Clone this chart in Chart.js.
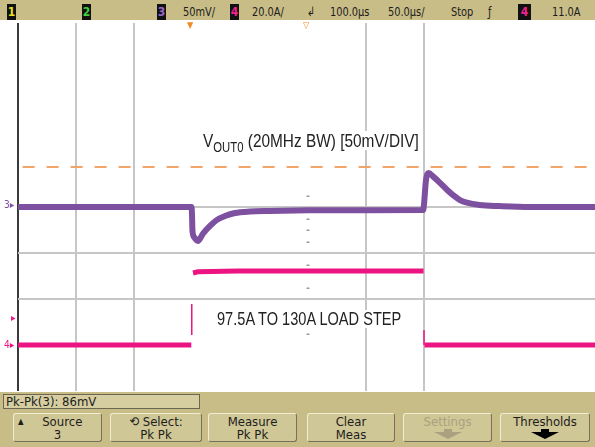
<!DOCTYPE html>
<html lang="en">
<head>
<meta charset="UTF-8" />
<title>Load step transient - VOUT0</title>
<script src="https://cdn.jsdelivr.net/npm/chart.js"></script>
<style>
  * { margin: 0; padding: 0; box-sizing: border-box; }
  body {
    width: 595px; height: 447px; overflow: hidden; background: #fff;
    font-family: 'Liberation Sans Narrow', 'DejaVu Sans Condensed', 'Liberation Sans', sans-serif;
    color: #1c1c1c;
  }
  #scope { position: relative; width: 595px; height: 447px; overflow: hidden; }
  #scopeChart { position: absolute; left: 0; top: 0; }

  .bar { position: absolute; left: 0; width: 595px; background: #c8bd87; }
  #topbar { top: 0; height: 20px; }
  #softkeys { top: 392px; height: 55px; }

  .tb {
    position: absolute; top: 4px; font-size: 13px; line-height: 16px; white-space: nowrap;
    transform: scaleX(0.84); transform-origin: left center;
  }
  .chbox {
    position: absolute; top: 4px; width: 9px; height: 16px; background: #111;
    font-size: 12px; line-height: 16px; text-align: center; font-weight: bold;
  }

  .mark { position: absolute; font-size: 9px; line-height: 9px; color: #f08a24; }
  .side { position: absolute; font-size: 10px; line-height: 10px; white-space: nowrap; }

  .note {
    position: absolute; white-space: nowrap; background: #fff; color: #222;
    font-family: 'Liberation Sans', Arial, sans-serif;
    transform: scaleX(0.81); transform-origin: left center;
  }
  .note sub { font-size: 14px; vertical-align: -5px; line-height: 0; }

  .readout {
    position: absolute; left: 3px; top: 2px; width: 197px; height: 15px;
    background: #d6cea0; border: 1px solid #6d6650;
    font-size: 13px; line-height: 13px; padding-left: 2px; white-space: nowrap;
  }
  .key {
    position: absolute; top: 21px; height: 29px; background: #d0c796;
    border: 1px solid; border-color: #f2ecd2 #77705a #77705a #f2ecd2; border-radius: 3px;
    text-align: center; font-size: 13px; line-height: 13px; padding-top: 1px; white-space: nowrap;
  }
  .key span { display: block; }
  .key.off { color: #a9a180; }
  .arrow { position: relative; margin: 1px auto 0; width: 28px; height: 10px; }
  .arrow::before { content: ''; position: absolute; left: 10px; top: 0; width: 8px; height: 3px; background: currentColor; }
  .arrow::after {
    content: ''; position: absolute; left: 0; top: 3px; width: 0; height: 0;
    border-left: 14px solid transparent; border-right: 14px solid transparent; border-top: 7px solid currentColor;
  }
</style>
</head>
<body>
<div id="scope">
  <canvas id="scopeChart" width="600" height="447"></canvas>

  <div class="bar" id="topbar">
    <div class="chbox" style="left:7px;color:#e8e020">1</div>
    <div class="chbox" style="left:82px;color:#3fd23f">2</div>
    <div class="chbox" style="left:157px;color:#9a66c8">3</div>
    <div class="tb" style="left:183px">50mV/</div>
    <div class="chbox" style="left:230px;color:#f0208e">4</div>
    <div class="tb" style="left:252px">20.0A/</div>
    <div class="tb" style="left:307px">&#8626;</div>
    <div class="tb" style="left:330px">100.0µs</div>
    <div class="tb" style="left:388px">50.0µs/</div>
    <div class="tb" style="left:451px">Stop</div>
    <div class="tb" style="left:488px">ƒ</div>
    <div class="chbox" style="left:518px;width:13px;color:#f0208e">4</div>
    <div class="tb" style="left:552px">11.0A</div>
  </div>

  <div class="mark" style="left:187px;top:21px">&#9660;</div>
  <div class="mark" style="left:303px;top:21px">&#9661;</div>

  <div class="side" style="left:4px;top:200px;color:#7d50a0">3&#9656;</div>
  <div class="side" style="left:11px;top:313px;color:#ec1482">&#9656;</div>
  <div class="side" style="left:4px;top:340px;color:#ec1482">4&#9656;</div>

  <div class="note" style="left:203px;top:131px;font-size:19px;line-height:19px">V<sub>OUT0</sub> (20MHz BW) [50mV/DIV]</div>
  <div class="note" style="left:217px;top:310px;font-size:18px;line-height:18px">97.5A TO 130A LOAD STEP</div>

  <div class="bar" id="softkeys">
    <div class="readout">Pk-Pk(3): 86mV</div>
    <div class="key" style="left:13px;width:89px"><span><small style="font-size:8px;float:left;margin-left:4px">&#9650;</small>Source</span><span>3</span></div>
    <div class="key" style="left:110px;width:92px"><span>&#10226; Select:</span><span>Pk Pk</span></div>
    <div class="key" style="left:208px;width:89px"><span>Measure</span><span>Pk Pk</span></div>
    <div class="key" style="left:307px;width:88px"><span>Clear</span><span>Meas</span></div>
    <div class="key off" style="left:403px;width:89px"><span>Settings</span><div class="arrow"></div></div>
    <div class="key" style="left:500px;width:90px"><span>Thresholds</span><div class="arrow" style="color:#000"></div></div>
  </div>
</div>

<script>
  // timebase 50 us/div, delay 100 us -> screen spans -150 .. 350 us
  const timeMin = -150;
  const timeMax = 350;
  const visibleTimeLines = [-100, -50, 150, 200];
  const visibleLevelLines = [0, -50, -100];
  const centerTicksMv = [12.5, -12.5, -25, -37.5, -62.5, -87.5, -137.5];

  // channel 3: VOUT0 deviation in mV (50 mV/div)
  const voutTimeUs = [-150, -0.4, 0, 0.4, 2, 5, 9.5, 15.5, 21.5, 28.4, 37, 50, 67, 100, 150, 199.3,
                      200, 201.7, 204, 208, 214, 220, 225, 231, 237, 248, 265, 291, 350];
  const voutMv = [0, 0, -8, -26, -33, -37, -29, -20.6, -14, -9.8, -6.5, -4.9, -4.3, -3.6, -3.4, -3.3,
                  3, 29, 37, 33, 26, 18.5, 13, 7.6, 4.7, 2.2, 1, 0, 0];

  // Pk-Pk marker level (mV)
  const markerTopMv = 43.5;

  // channel 4: load current in A (20 A/div)
  const loadTimeUs = [-150, -0.6, 0, 0.9, 5, 40, 120, 199.6, 200, 200.4, 350];
  const loadAmps = [97.5, 97.5, null, 128.8, 129.3, 129.7, 129.7, 129.7, null, 97.5, 97.5];
  const edgeTimeUs = [-0.2, -0.2, 100, 200, 200];
  const edgeAmps = [101.8, 115.3, null, 104, 97.5];

  const pts = (xs, ys) => xs.map((x, i) => ({ x, y: ys[i] }));

  const centerTicks = {
    id: 'centerTicks',
    afterDatasetsDraw(chart) {
      const { ctx, scales } = chart;
      const cx = scales.x.getPixelForValue(100);
      ctx.save();
      ctx.fillStyle = '#9a9a9a';
      centerTicksMv.forEach(v => {
        const y = Math.round(scales.y.getPixelForValue(v));
        ctx.fillRect(cx - 1.5, y - 0.5, 3, 1.5);
      });
      ctx.restore();
    }
  };

  new Chart(document.getElementById('scopeChart'), {
    type: 'line',
    data: {
      datasets: [
        {
          data: pts([timeMin + 4, timeMax], [markerTopMv, markerTopMv]),
          yAxisID: 'y',
          borderColor: '#f2a468',
          borderWidth: 2,
          borderDash: [12, 12],
          pointRadius: 0
        },
        {
          data: pts(loadTimeUs, loadAmps),
          yAxisID: 'y4',
          borderColor: '#ec1482',
          borderWidth: 5,
          borderCapStyle: 'butt',
          pointRadius: 0,
          spanGaps: false
        },
        {
          data: pts(edgeTimeUs, edgeAmps),
          yAxisID: 'y4',
          borderColor: '#ec1482',
          borderWidth: 1.5,
          pointRadius: 0,
          spanGaps: false
        },
        {
          data: pts(voutTimeUs, voutMv),
          yAxisID: 'y',
          borderColor: '#7d50a0',
          borderWidth: 6,
          cubicInterpolationMode: 'monotone',
          pointRadius: 0
        }
      ]
    },
    options: {
      responsive: false,
      animation: false,
      layout: { padding: { left: 18, right: 2, top: 23, bottom: 56 } },
      plugins: { legend: { display: false }, tooltip: { enabled: false } },
      scales: {
        x: {
          type: 'linear',
          min: timeMin,
          max: timeMax,
          ticks: { display: false, stepSize: 50 },
          border: { display: false },
          grid: {
            drawTicks: false,
            lineWidth: 2,
            color: c => c.tick.value === timeMin ? '#3a3a3a'
              : visibleTimeLines.includes(c.tick.value) ? '#c6c6c6' : 'rgba(0,0,0,0)'
          }
        },
        y: {
          min: -200,
          max: 200,
          ticks: { display: false, stepSize: 50 },
          border: { display: false },
          grid: {
            drawTicks: false,
            lineWidth: 2,
            color: c => visibleLevelLines.includes(c.tick.value) ? '#c6c6c6' : 'rgba(0,0,0,0)'
          }
        },
        y4: { display: false, min: 77.5, max: 237.5 }
      }
    },
    plugins: [centerTicks]
  });
</script>
</body>
</html>
